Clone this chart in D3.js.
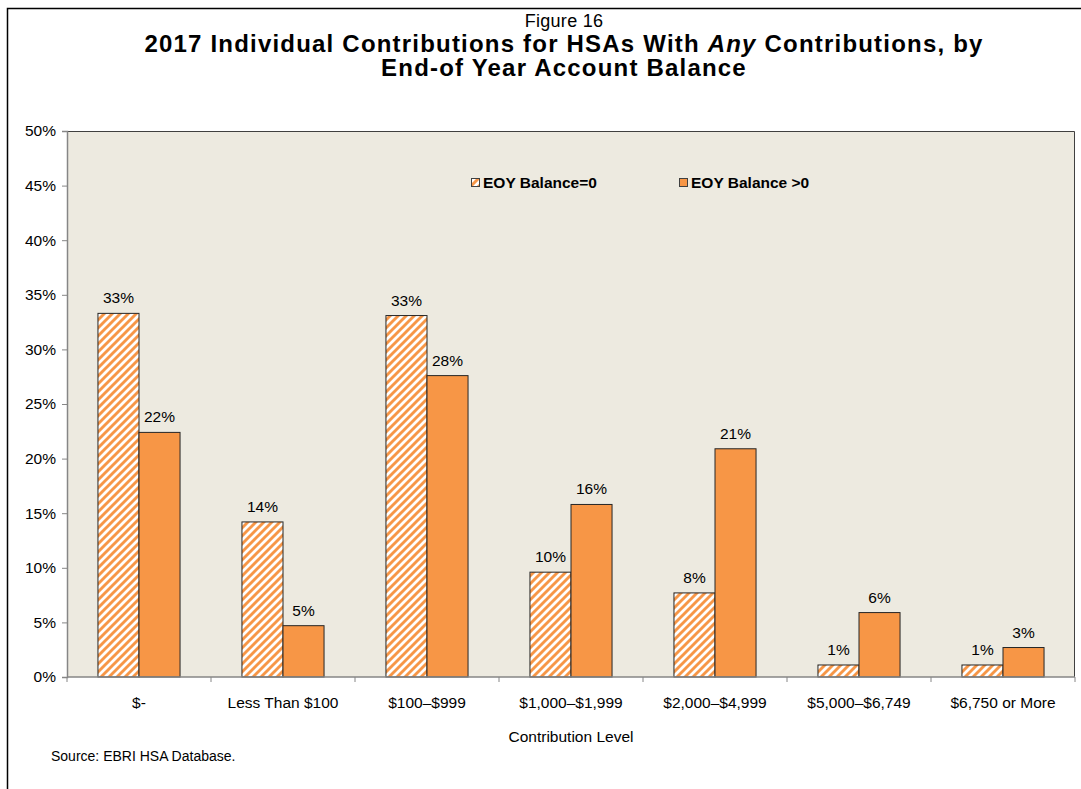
<!DOCTYPE html>
<html>
<head>
<meta charset="utf-8">
<script src="https://cdn.jsdelivr.net/npm/d3@7/dist/d3.min.js"></script>
<style>
  html, body { margin: 0; padding: 0; background: #ffffff; }
  svg { display: block; }
  text { font-family: "Liberation Sans", Arial, sans-serif; fill: #000; }
</style>
</head>
<body>
<svg id="chart" width="1081" height="789"></svg>
<script>
// ---- data ----
const categories = ["$-", "Less Than $100", "$100\u2013$999", "$1,000\u2013$1,999", "$2,000\u2013$4,999", "$5,000\u2013$6,749", "$6,750 or More"];
const seriesNames = ["EOY Balance=0", "EOY Balance >0"];
const balanceZero = [33.3, 14.2, 33.1, 9.6, 7.7, 1.1, 1.1];
const balancePositive = [22.4, 4.7, 27.6, 15.8, 20.9, 5.9, 2.7];
const labelsZero = ["33%", "14%", "33%", "10%", "8%", "1%", "1%"];
const labelsPositive = ["22%", "5%", "28%", "16%", "21%", "6%", "3%"];
const yTicks = [0, 5, 10, 15, 20, 25, 30, 35, 40, 45, 50];

const seriesValues = [balanceZero, balancePositive];
const seriesLabels = [labelsZero, labelsPositive];

const svg = d3.select("#chart");
const plot = { left: 67, right: 1075, top: 131, bottom: 677 };
const orange = "#F79646";
const bg = "#EDEAE0";

// pattern
const defs = svg.append("defs");
const pat = defs.append("pattern")
  .attr("id", "hatch").attr("patternUnits", "userSpaceOnUse")
  .attr("width", 8).attr("height", 8);
pat.append("rect").attr("width", 8).attr("height", 8).attr("fill", "#ffffff");
pat.append("path")
  .attr("d", "M-2,2 L2,-2 M0,8 L8,0 M6,10 L10,6")
  .attr("stroke", orange).attr("stroke-width", 2.9);

// outer frame
svg.append("rect").attr("x", 7.5).attr("y", 8.5).attr("width", 1200).attr("height", 900)
  .attr("fill", "none").attr("stroke", "#000").attr("stroke-width", 1.5);

// titles
const cx = 564;
svg.append("text").attr("x", cx).attr("y", 27).attr("text-anchor", "middle")
  .style("font-size", "18px").style("letter-spacing", "0.3px").text("Figure 16");
const t2 = svg.append("text").attr("x", cx).attr("y", 52).attr("text-anchor", "middle")
  .style("font-size", "24px").style("font-weight", "bold").style("letter-spacing", "1.2px");
t2.append("tspan").text("2017 Individual Contributions for HSAs With ");
t2.append("tspan").style("font-style", "italic").text("Any");
t2.append("tspan").text(" Contributions, by");
svg.append("text").attr("x", cx).attr("y", 76).attr("text-anchor", "middle")
  .style("font-size", "24px").style("font-weight", "bold").style("letter-spacing", "1.2px")
  .text("End-of Year Account Balance");

// scales
const x0 = d3.scaleBand().domain(categories).range([plot.left, plot.right])
  .paddingInner(0.43).paddingOuter(0.215);
const x1 = d3.scaleBand().domain([0, 1]).range([0, x0.bandwidth()]).padding(0);
const y = d3.scaleLinear().domain([0, 50]).range([plot.bottom, plot.top]);

// plot background
svg.append("rect").attr("x", plot.left).attr("y", plot.top)
  .attr("width", plot.right - plot.left).attr("height", plot.bottom - plot.top)
  .attr("fill", bg);
// top & right border
svg.append("path")
  .attr("d", `M${plot.left},${plot.top + 0.5} H${plot.right - 0.5} V${plot.bottom}`)
  .attr("fill", "none").attr("stroke", "#404040").attr("stroke-width", 1);

// bars
const groups = svg.append("g").selectAll("g").data(categories).join("g")
  .attr("transform", d => `translate(${x0(d)},0)`);
groups.selectAll("rect").data((d, i) => seriesValues.map((s, k) => ({ k, v: s[i] })))
  .join("rect")
  .attr("x", d => x1(d.k))
  .attr("y", d => y(d.v))
  .attr("width", x1.bandwidth())
  .attr("height", d => y(0) - y(d.v))
  .attr("fill", d => d.k === 0 ? "url(#hatch)" : orange)
  .attr("stroke", "#262626").attr("stroke-width", 1);
groups.selectAll("text").data((d, i) => seriesValues.map((s, k) => ({ k, v: s[i], l: seriesLabels[k][i] })))
  .join("text")
  .attr("x", d => x1(d.k) + x1.bandwidth() / 2)
  .attr("y", d => y(d.v) - 10)
  .attr("text-anchor", "middle")
  .style("font-size", "15.5px")
  .text(d => d.l);

// y axis
const yAxis = d3.axisLeft(y).tickValues(yTicks).tickFormat(d => d + "%").tickSize(5).tickPadding(6);
const gy = svg.append("g").attr("transform", `translate(${plot.left},0)`).call(yAxis);
gy.select(".domain").attr("stroke", "#868686").attr("stroke-width", 1.5);
gy.selectAll(".tick line").attr("stroke", "#868686");
gy.selectAll(".tick text").style("font-size", "15.5px").style("font-family", '"Liberation Sans", Arial, sans-serif').attr("fill", "#000");

// x axis
const xAxis = d3.axisBottom(x0).tickSize(0).tickPadding(20);
const gx = svg.append("g").attr("transform", `translate(0,${plot.bottom})`).call(xAxis);
gx.select(".domain").remove();
gx.selectAll(".tick text").style("font-size", "15.5px").style("font-family", '"Liberation Sans", Arial, sans-serif').attr("fill", "#000");
svg.append("line").attr("x1", plot.left).attr("x2", plot.right).attr("y1", plot.bottom).attr("y2", plot.bottom)
  .attr("stroke", "#868686").attr("stroke-width", 1.5);
const boundaries = categories.map(c => x0(c) - (x0.step() - x0.bandwidth()) / 2).concat([plot.right]);
svg.append("g").selectAll("line").data(boundaries).join("line")
  .attr("x1", d => d).attr("x2", d => d)
  .attr("y1", plot.bottom).attr("y2", plot.bottom + 5)
  .attr("stroke", "#868686").attr("stroke-width", 1);

// axis title
svg.append("text").attr("x", (plot.left + plot.right) / 2).attr("y", 742).attr("text-anchor", "middle")
  .style("font-size", "15.5px").text("Contribution Level");

// source
svg.append("text").attr("x", 51).attr("y", 761).style("font-size", "14px").text("Source: EBRI HSA Database.");

// legend
const legendX = [471, 679];
const lg = svg.append("g").selectAll("g").data(seriesNames).join("g")
  .attr("transform", (d, i) => `translate(${legendX[i]},178)`);
lg.append("rect").attr("x", 0.5).attr("y", 0.5).attr("width", 8).attr("height", 8)
  .attr("fill", (d, i) => i === 0 ? "url(#hatch)" : orange)
  .attr("stroke", "#404040").attr("stroke-width", 1);
lg.append("text").attr("x", 12).attr("y", 10).style("font-size", "15.5px").style("font-weight", "bold").text(d => d);
</script>
</body>
</html>
